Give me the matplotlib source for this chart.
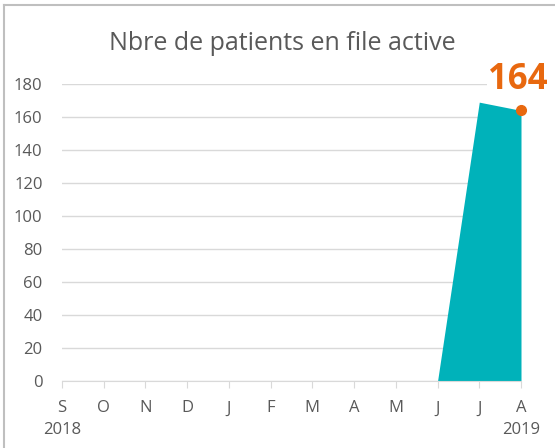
import matplotlib.pyplot as plt
import numpy as np

plt.rcParams['font.family'] = ['Open Sans', 'DejaVu Sans']

# monthly data, Sep 2018 -> Aug 2019
months = ['S', 'O', 'N', 'D', 'J', 'F', 'M', 'A', 'M', 'J', 'J', 'A']
years = {0: '2018', 11: '2019'}
patients = [0, 0, 0, 0, 0, 0, 0, 0, 0, 0, 169, 164]
last_label = '164'

teal = '#00B2BA'
orange = '#E8680F'
grey_txt = '#595959'
grid_col = '#D9D9D9'

fig = plt.figure(figsize=(5.55, 4.48), dpi=100)
ax = fig.add_axes([62/555, 1-381/448, (521-62)/555, (381-84)/448])

x = np.arange(len(months))
y = np.array(patients, dtype=float)
ax.fill_between(x, 0, y, color=teal, lw=0, zorder=2)
ax.plot(x[-1], y[-1], 'o', color=orange, ms=7, zorder=4, clip_on=False)
ax.annotate(last_label, (x[-1], y[-1]), xytext=(-2, 9), textcoords='offset points',
            color=orange, fontsize=25, fontweight='bold', ha='center', va='bottom',
            zorder=5, annotation_clip=False,
            bbox=dict(facecolor='white', edgecolor='none', pad=1))

ax.set_xlim(0, len(months) - 1)
ax.set_ylim(0, 180)
ax.set_yticks(np.arange(0, 181, 20))
ax.grid(axis='y', color=grid_col, lw=1, zorder=0)
ax.set_axisbelow(True)

labels = [m + ('\n' + years[i] if i in years else '') for i, m in enumerate(months)]
ax.set_xticks(x)
ax.set_xticklabels(labels, linespacing=1.5)
ax.tick_params(axis='x', length=5, color=grid_col, colors=grey_txt, labelsize=12, pad=9)
ax.tick_params(axis='y', length=0, colors=grey_txt, labelsize=12, pad=14)

for s in ['top', 'right', 'left']:
    ax.spines[s].set_visible(False)
ax.spines['bottom'].set_color(grid_col)

fig.text(282/555, 1-43/448, 'Nbre de patients en file active', ha='center',
         va='center', fontsize=18, color=grey_txt)

# chart border (left and top only visible in the crop)
fig.add_artist(plt.Line2D([3.5/555, 3.5/555], [0, 1-5/448], color='#BFBFBF', lw=1.5))
fig.add_artist(plt.Line2D([3.5/555, 1], [1-5/448, 1-5/448], color='#BFBFBF', lw=1.5))

fig.savefig('out.png', dpi=100)
